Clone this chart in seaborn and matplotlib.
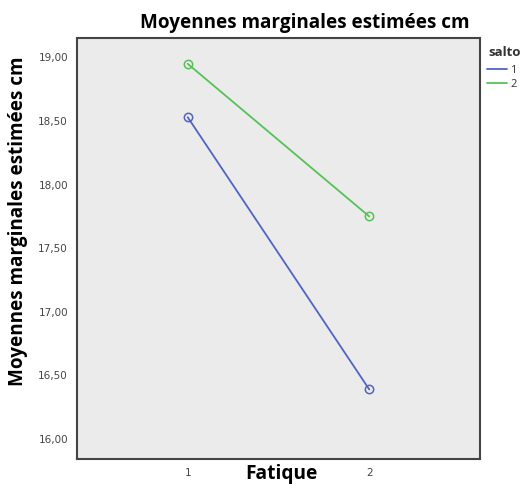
import matplotlib
matplotlib.use("Agg")
import matplotlib.pyplot as plt
import seaborn as sns
import pandas as pd
from matplotlib.lines import Line2D

fatigue = [1, 2]
salto_levels = ["1", "2"]
salto1 = [18.53, 16.39]
salto2 = [18.95, 17.75]
yticks = [16.0, 16.5, 17.0, 17.5, 18.0, 18.5, 19.0]

df = pd.DataFrame({
    "Fatique": fatigue * 2,
    "salto": [salto_levels[0]] * 2 + [salto_levels[1]] * 2,
    "cm": salto1 + salto2,
})

sns.set_style("white")
plt.rcParams["font.family"] = ["Open Sans", "DejaVu Sans"]
plt.rcParams["text.color"] = "black"

colors = {"1": "#5064c0", "2": "#56c156"}

fig = plt.figure(figsize=(5.2, 4.84), dpi=100)
ax = fig.add_axes([77/520, 25/484, 403/520, 421/484])
ax.set_facecolor("#ebebeb")

sns.lineplot(data=df, x="Fatique", y="cm", hue="salto", palette=colors,
             marker="o", markersize=6, markerfacecolor="none",
             markeredgewidth=1.1, linewidth=1.3, ax=ax, legend=False)
for line, s in zip(ax.get_lines(), salto_levels):
    line.set_markeredgecolor(colors[s])

ax.set_xlim(0.39, 2.61)
ax.set_ylim(15.843, 19.153)
ax.set_xticks(fatigue)
ax.set_xticklabels(["1", "2"])
ax.set_yticks(yticks)
ax.set_yticklabels([f"{v:.2f}".replace(".", ",") for v in yticks])
ax.tick_params(axis="both", labelsize=7.5, colors="#444444", length=5, width=1.3,
               direction="out", pad=1.5)
for lab in ax.get_xticklabels() + ax.get_yticklabels():
    lab.set_family(["DejaVu Sans"])
for sp in ax.spines.values():
    sp.set_color("#444444")
    sp.set_linewidth(1.5)

ax.set_xlabel("")
ax.set_ylabel("")
fig.text(281/520, 1 - 474/484, "Fatique", fontsize=13.8, fontweight="bold",
         color="black", ha="center", va="center")
fig.text(18/520, 1 - 221/484, "Moyennes marginales estimées cm", fontsize=13.6,
         fontweight="bold", color="black", ha="center", va="center", rotation=90)

fig.text(305/520, 1 - 23/484, "Moyennes marginales estimées cm", fontsize=13.6,
         fontweight="bold", color="black", ha="center", va="center")

fig.text(488/520, 1 - 52/484, "salto", fontsize=9.5, fontweight="bold",
         color="#333333", ha="left", va="center")
handles = [Line2D([0], [0], color=colors[s], lw=1.3) for s in salto_levels]
leg = fig.legend(handles, salto_levels, loc="upper left",
                 bbox_to_anchor=(487/520, 1 - 65/484), frameon=False,
                 fontsize=8, handlelength=1.8,
                 handletextpad=0.3, labelspacing=0.3, borderpad=0,
                 borderaxespad=0)
for t in leg.get_texts():
    t.set_color("#333333")

fig.savefig("out.png", dpi=100)
